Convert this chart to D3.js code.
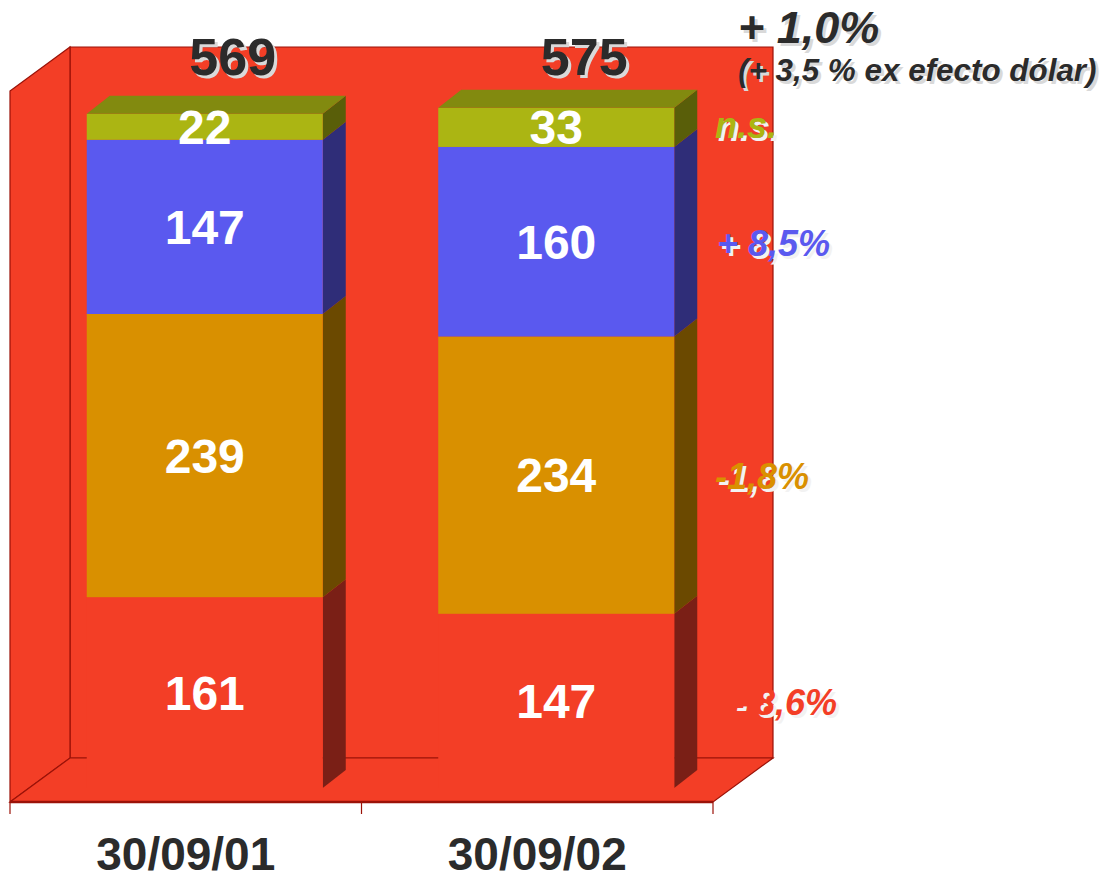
<!DOCTYPE html>
<html>
<head>
<meta charset="utf-8">
<script src="https://cdn.jsdelivr.net/npm/d3@7/dist/d3.min.js"></script>
<style>
  html, body { margin: 0; padding: 0; background: #ffffff; }
  svg { display: block; }
  text { font-family: "Liberation Sans", Arial, Helvetica, sans-serif; font-weight: bold; }
</style>
</head>
<body>
<svg id="chart" width="1103" height="878"></svg>
<script>
// Data
const categories = ["30/09/01", "30/09/02"];
const seriesKeys = ["rojo", "naranja", "azul", "verde"];
const rojoValues = [161, 147];
const naranjaValues = [239, 234];
const azulValues = [147, 160];
const verdeValues = [22, 33];
const totals = ["569", "575"];
const changeLabels = ["- 8,6%", "-1,8%", "+ 8,5%", "n.s."];
const headline = "+ 1,0%";
const subline = "(+ 3,5 % ex efecto dólar)";
const valueMax = 600;

// Colours: front face, side face, top face
const palette = {
  rojo:    { front: "#f33e26", side: "#7a1f16", top: "#a52a1a" },
  naranja: { front: "#d99000", side: "#6b4900", top: "#8f6000" },
  azul:    { front: "#5a59ef", side: "#2f2d78", top: "#3d3ca0" },
  verde:   { front: "#abb513", side: "#595e09", top: "#828a0f" }
};
const wallFill = "#f33e26";
const edge = "#9b1208";
const dark = "#2b2b2b";
const shadow = "#d9d9d9";

const rows = categories.map((c, i) => ({
  category: c,
  rojo: rojoValues[i],
  naranja: naranjaValues[i],
  azul: azulValues[i],
  verde: verdeValues[i]
}));
const stacked = d3.stack().keys(seriesKeys)(rows);

// Geometry of the 3D box
const floorFrontY = 802;
const frontLeft = 10, frontRight = 713;
const depthX = 60, depthY = 44;       // full box depth
const barShiftX = 19, barShiftY = 14; // bar front plane inside the box
const barDX = 23, barDY = 18;         // bar thickness

const svg = d3.select("#chart");

const x = d3.scaleBand().domain(categories).range([frontLeft, frontRight]);
const barWidth = 236;
const barX = c => x(c) + (x.bandwidth() - barWidth) / 2 + barShiftX;

const backBottom = floorFrontY - depthY;
const yBack = d3.scaleLinear().domain([0, valueMax]).range([backBottom, backBottom - 711]);
const yBar = d3.scaleLinear().domain([0, valueMax]).range([floorFrontY - barShiftY, floorFrontY - barShiftY - 711]);

const backTop = yBack(valueMax);
const pts = a => a.map(p => p.join(",")).join(" ");

// Walls and floor
const walls = svg.append("g");
walls.append("polygon") // back wall
  .attr("points", pts([[frontLeft + depthX, backTop], [frontRight + depthX, backTop],
                       [frontRight + depthX, backBottom], [frontLeft + depthX, backBottom]]))
  .attr("fill", wallFill).attr("stroke", edge).attr("stroke-width", 1.2);
walls.append("polygon") // side wall
  .attr("points", pts([[frontLeft, backTop + depthY], [frontLeft + depthX, backTop],
                       [frontLeft + depthX, backBottom], [frontLeft, floorFrontY]]))
  .attr("fill", wallFill).attr("stroke", edge).attr("stroke-width", 1.2);
walls.append("polygon") // floor
  .attr("points", pts([[frontLeft, floorFrontY], [frontLeft + depthX, backBottom],
                       [frontRight + depthX, backBottom], [frontRight, floorFrontY]]))
  .attr("fill", wallFill).attr("stroke", edge).attr("stroke-width", 1.2);
walls.append("line")
  .attr("x1", frontLeft).attr("x2", frontRight)
  .attr("y1", floorFrontY).attr("y2", floorFrontY)
  .attr("stroke", edge).attr("stroke-width", 2.5);

// Category ticks
const tickXs = [frontLeft, ...categories.slice(1).map(c => x(c)), frontRight];
walls.selectAll("line.tick").data(tickXs).join("line")
  .attr("class", "tick")
  .attr("x1", d => d).attr("x2", d => d)
  .attr("y1", floorFrontY).attr("y2", floorFrontY + 12)
  .attr("stroke", edge).attr("stroke-width", 1.2);

// Bars
const bars = svg.append("g");
stacked.forEach((layer, li) => {
  const col = palette[layer.key];
  layer.forEach((seg, i) => {
    const c = categories[i];
    const x0 = barX(c), x1 = x0 + barWidth;
    const yTop = yBar(seg[1]), yBot = yBar(seg[0]);
    bars.append("polygon")
      .attr("points", pts([[x1, yTop], [x1 + barDX, yTop - barDY], [x1 + barDX, yBot - barDY], [x1, yBot]]))
      .attr("fill", col.side);
    bars.append("rect")
      .attr("x", x0).attr("y", yTop)
      .attr("width", barWidth).attr("height", yBot - yTop)
      .attr("fill", col.front);
    if (li === stacked.length - 1) {
      bars.append("polygon")
        .attr("points", pts([[x0, yTop], [x0 + barDX, yTop - barDY], [x1 + barDX, yTop - barDY], [x1, yTop]]))
        .attr("fill", col.top);
    }
  });
});

// Segment value labels
const labels = svg.append("g");
stacked.forEach(layer => {
  layer.forEach((seg, i) => {
    const c = categories[i];
    labels.append("text")
      .attr("x", barX(c) + barWidth / 2)
      .attr("y", (yBar(seg[0]) + yBar(seg[1])) / 2 + 17)
      .attr("text-anchor", "middle")
      .attr("font-size", 48)
      .attr("fill", "#ffffff")
      .text(seg[1] - seg[0]);
  });
});

// Text with a soft drop shadow
function shadowText(g, tx, ty, str, size, fill, opts = {}) {
  const anchor = opts.anchor || "start";
  const style = opts.italic ? "italic" : "normal";
  g.append("text").attr("x", tx + 3).attr("y", ty + 3)
    .attr("text-anchor", anchor).attr("font-size", size).attr("font-style", style)
    .attr("fill", opts.shadow || shadow).text(str);
  g.append("text").attr("x", tx).attr("y", ty)
    .attr("text-anchor", anchor).attr("font-size", size).attr("font-style", style)
    .attr("fill", fill).text(str);
}

// Totals above the bars
const tot = svg.append("g");
categories.forEach((c, i) => {
  shadowText(tot, barX(c) + barWidth / 2 + 28, 75, totals[i], 52, dark, { anchor: "middle" });
});

// Growth annotations beside the second bar
const ann = svg.append("g");
shadowText(ann, 738, 43, headline, 45, dark, { italic: true });
shadowText(ann, 738, 81, subline, 31.4, dark, { italic: true });
const last = categories.length - 1;
stacked.forEach((layer, li) => {
  const seg = layer[last];
  const mid = (yBar(seg[0]) + yBar(seg[1])) / 2;
  const str = changeLabels[li];
  const isNs = str === "n.s.";
  const startX = { "- 8,6%": 733, "-1,8%": 715, "+ 8,5%": 717, "n.s.": 715 }[str];
  shadowText(ann, startX, mid + (isNs ? 11 : 14), str, 36, palette[layer.key].front,
             { italic: true, shadow: "#f2f2f2" });
});

// Category axis labels
svg.append("g").selectAll("text").data(categories).join("text")
  .attr("x", d => x(d) + x.bandwidth() / 2)
  .attr("y", 870)
  .attr("text-anchor", "middle")
  .attr("font-size", 46)
  .attr("fill", dark)
  .text(d => d);
</script>
</body>
</html>
